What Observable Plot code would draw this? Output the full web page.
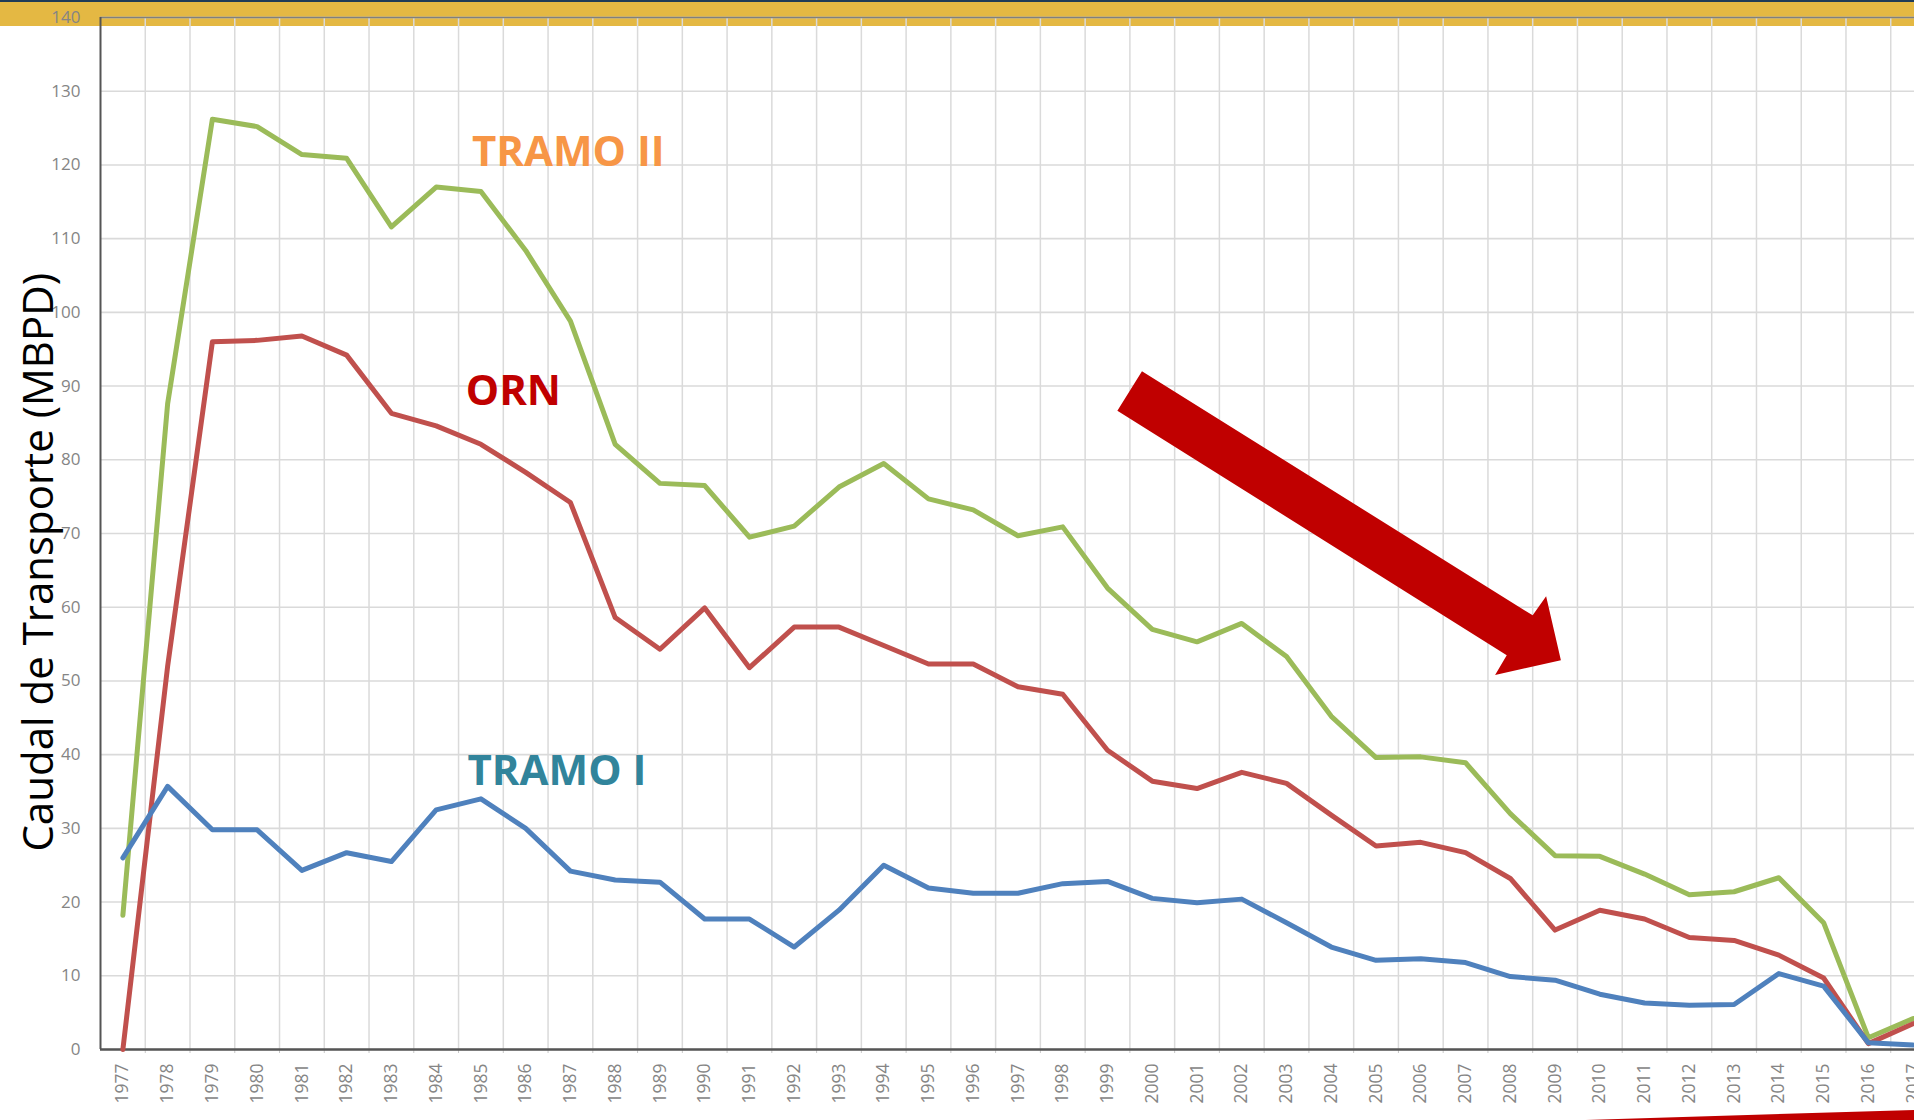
<!DOCTYPE html>
<html>
<head>
<meta charset="utf-8">
<script src="https://cdn.jsdelivr.net/npm/d3@7"></script>
<script src="https://cdn.jsdelivr.net/npm/@observablehq/plot@0.6"></script>
<style>
  html, body { margin: 0; padding: 0; background: #ffffff; overflow: hidden; }
  #wrap { position: relative; width: 1914px; height: 1120px; overflow: hidden; background: #ffffff; }
  #band { position: absolute; left: 0; top: 0; width: 1914px; height: 26px; background: #E4B843; border-top: 2px solid #1f3b57; box-sizing: border-box; }
  #chart { position: absolute; left: 0; top: 0; }
</style>
</head>
<body>
<div id="wrap"><div id="band"></div><div id="chart"></div></div>
<script>
// ---- Data ----
const years = [1977, 1978, 1979, 1980, 1981, 1982, 1983, 1984, 1985, 1986, 1987, 1988, 1989, 1990,
  1991, 1992, 1993, 1994, 1995, 1996, 1997, 1998, 1999, 2000, 2001, 2002, 2003, 2004, 2005,
  2006, 2007, 2008, 2009, 2010, 2011, 2012, 2013, 2014, 2015, 2016, 2017];

const tramoII = [18.2, 87.6, 126.2, 125.2, 121.4, 120.9, 111.6, 117.0, 116.4, 108.4, 98.8, 82.1, 76.8, 76.5,
  69.5, 71.0, 76.3, 79.5, 74.7, 73.2, 69.7, 70.9, 62.6, 57.0, 55.3, 57.8, 53.3, 45.2, 39.6,
  39.7, 38.9, 32.0, 26.3, 26.2, 23.8, 21.0, 21.4, 23.3, 17.2, 1.6, 4.2];

const orn = [0.0, 52.0, 96.0, 96.2, 96.8, 94.2, 86.3, 84.6, 82.1, 78.3, 74.2, 58.6, 54.3, 59.9,
  51.8, 57.3, 57.3, 54.8, 52.3, 52.3, 49.2, 48.2, 40.6, 36.4, 35.4, 37.6, 36.1, 31.8, 27.6,
  28.1, 26.7, 23.2, 16.2, 18.9, 17.7, 15.2, 14.8, 12.8, 9.7, 0.8, 3.5];

const tramoI = [26.0, 35.7, 29.8, 29.8, 24.3, 26.7, 25.5, 32.5, 34.0, 30.0, 24.2, 23.0, 22.7, 17.7,
  17.7, 13.9, 18.9, 25.0, 21.9, 21.2, 21.2, 22.5, 22.8, 20.5, 19.9, 20.4, 17.2, 13.9, 12.1,
  12.3, 11.8, 9.9, 9.4, 7.5, 6.3, 6.0, 6.1, 10.3, 8.6, 0.9, 0.6];

const yTicks = [0, 10, 20, 30, 40, 50, 60, 70, 80, 90, 100, 110, 120, 130, 140];
const yTitle = "Caudal de Transporte (MBPD)";

const seriesNames = ["TRAMO II", "ORN", "TRAMO I"];
const seriesValues = [tramoII, orn, tramoI];
const seriesColors = ["#9BBB59", "#C0504D", "#4F81BD"];

// Annotation labels (text, position in data units, colour)
const labelTexts = ["TRAMO II", "ORN", "TRAMO I"];
const labelYears = [1984.8, 1984.66, 1984.7];
const labelValues = [119.8, 87.4, 35.9];
const labelColors = ["#F79646", "#C00000", "#31849B"];

// Downward trend arrow outline (year, value)
const arrowShape = [
  [1999.77, 92.0], [2008.50, 58.9], [2008.80, 61.5], [2009.13, 52.8],
  [2007.66, 50.8], [2007.92, 53.5], [1999.22, 86.65]
];
// red sliver at bottom-right (year, value)
const wedgeShape = [[2009.0, -9.69], [2017.04, -8.2], [2017.04, -11], [2008.8, -11]];

// ---- Build ----
const boundaries = years.map(y => y + 0.5);
const lineMarks = seriesNames.map((name, k) =>
  Plot.line(years.map((yr, i) => ({year: yr, value: seriesValues[k][i]})), {
    x: "year", y: "value", stroke: seriesColors[k], strokeWidth: 5,
    strokeLinejoin: "round", strokeLinecap: "round"
  })
);
const labelMarks = labelTexts.map((t, k) =>
  Plot.text([{t, x: labelYears[k], v: labelValues[k]}], {
    x: "x", y: "v", text: "t", fill: labelColors[k], fontSize: 42, fontWeight: "bold",
    textAnchor: "start", lineAnchor: "bottom"
  })
);

const chart = Plot.plot({
  width: 1914,
  height: 1120,
  marginLeft: 100,
  marginRight: 0,
  marginTop: 17,
  marginBottom: 71,
  style: {background: "transparent", fontFamily: "'Open Sans', sans-serif", overflow: "hidden"},
  x: {domain: [1976.5, 2017.5], range: [100, 1935]},
  y: {domain: [0, 140]},
  marks: [
    Plot.gridY(yTicks, {stroke: "#dadada", strokeOpacity: 1, strokeWidth: 1.6}),
    Plot.gridX(boundaries, {stroke: "#dadada", strokeOpacity: 1, strokeWidth: 1.5}),
    Plot.axisX(boundaries, {tickSize: 4, tickFormat: () => "", label: null, stroke: "#c8c8c8"}),
    Plot.axisX(years, {tickSize: 0, tickPadding: 14, tickRotate: -90, tickFormat: d => String(d),
      fontSize: 17.5, fill: "#858585", label: null}),
    Plot.axisY(yTicks, {tickSize: 0, tickPadding: 20, fontSize: 17, fill: "#858585", label: null}),
    Plot.ruleY([140], {stroke: "#7f7f7f", strokeWidth: 1.5}),
    Plot.ruleX([1976.5], {stroke: "#555555", strokeWidth: 2}),
    Plot.ruleY([0], {stroke: "#555555", strokeWidth: 2.5}),
    ...lineMarks,
    ...labelMarks,
    Plot.text([{t: yTitle, v: 66.1}], {
      y: "v", text: "t", frameAnchor: "left", dx: -48, rotate: -90,
      textAnchor: "middle", lineAnchor: "bottom", fontSize: 42, fill: "#000000"
    }),
    Plot.line(arrowShape, {x: d => d[0], y: d => d[1], fill: "#C00000", stroke: "none"}),
    Plot.line(wedgeShape, {x: d => d[0], y: d => d[1], fill: "#C00000", stroke: "none"})
  ]
});
document.getElementById("chart").appendChild(chart);
</script>
</body>
</html>
